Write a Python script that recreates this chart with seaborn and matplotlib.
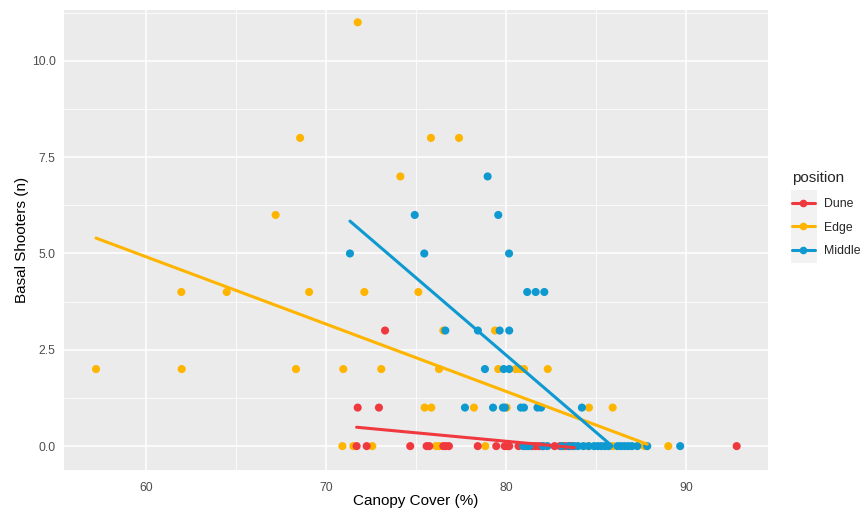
import matplotlib
matplotlib.use("Agg")
import matplotlib.pyplot as plt
from matplotlib.lines import Line2D
from matplotlib.patches import Rectangle
import numpy as np
import pandas as pd
import seaborn as sns

# ---- observations: canopy cover (%) and basal shooter counts per position ----
edge_cover = [71.76,
              68.56, 75.83, 77.39,
              74.13,
              67.2,
              61.96, 64.48, 69.06, 72.13, 75.13,
              76.52, 79.39,
              57.22, 61.98, 68.33, 70.96, 73.07, 76.28, 79.57, 80.54, 80.78, 81.0, 82.32,
              75.48, 75.85, 78.22, 80.04, 84.61, 85.93,
              70.91, 71.52, 72.57, 76.11, 76.3, 78.85, 81.2, 84.56, 85.94, 87.7, 89.02]
edge_shoot = [11,
              8, 8, 8,
              7,
              6,
              4, 4, 4, 4, 4,
              3, 3,
              2, 2, 2, 2, 2, 2, 2, 2, 2, 2, 2,
              1, 1, 1, 1, 1, 1,
              0, 0, 0, 0, 0, 0, 0, 0, 0, 0, 0]

dune_cover = [73.28,
              71.76, 72.94,
              71.7, 72.26, 74.68, 75.59, 75.74, 76.52, 76.65, 76.83, 78.43, 79.46,
              79.93, 80.07, 80.18, 80.7, 81.45, 81.65, 81.85, 82.05, 82.7, 83.0,
              83.25, 83.45, 83.65, 92.82]
dune_shoot = [3,
              1, 1,
              0, 0, 0, 0, 0, 0, 0, 0, 0, 0,
              0, 0, 0, 0, 0, 0, 0, 0, 0, 0,
              0, 0, 0, 0]

middle_cover = [78.98,
                74.93, 79.57,
                71.33, 75.46, 80.17,
                81.18, 81.65, 82.13,
                76.63, 78.44, 79.65, 80.18,
                78.83, 79.87, 80.18,
                77.72, 79.28, 79.83, 79.94, 80.83, 81.0, 81.75, 81.95, 84.22,
                80.96, 81.1, 81.3, 82.05, 82.3, 83.1, 83.5, 83.8, 84.0, 84.3, 84.6,
                84.9, 85.1, 85.3, 85.5, 85.7, 86.2, 86.4, 86.6, 86.8, 87.0, 87.3,
                87.85, 89.68]
middle_shoot = [7,
                6, 6,
                5, 5, 5,
                4, 4, 4,
                3, 3, 3, 3,
                2, 2, 2,
                1, 1, 1, 1, 1, 1, 1, 1, 1,
                0, 0, 0, 0, 0, 0, 0, 0, 0, 0, 0,
                0, 0, 0, 0, 0, 0, 0, 0, 0, 0, 0,
                0, 0]

# ---- fitted linear trends (start / end of each fitted segment) ----
trend_position = ["Dune", "Dune", "Edge", "Edge", "Middle", "Middle"]
trend_cover = [71.7, 83.8, 57.22, 87.85, 71.33, 85.9]
trend_shoot = [0.49, -0.04, 5.40, 0.05, 5.84, 0.0]

positions = ["Dune", "Edge", "Middle"]
colours = ["#F0393F", "#FFB400", "#0E99D0"]
palette = dict(zip(positions, colours))

x_ticks = [60, 70, 80, 90]
y_ticks = [0.0, 2.5, 5.0, 7.5, 10.0]
y_tick_labels = ["0.0", "2.5", "5.0", "7.5", "10.0"]

points = pd.concat([
    pd.DataFrame({"cover": edge_cover, "shooters": edge_shoot, "position": "Edge"}),
    pd.DataFrame({"cover": dune_cover, "shooters": dune_shoot, "position": "Dune"}),
    pd.DataFrame({"cover": middle_cover, "shooters": middle_shoot, "position": "Middle"}),
], ignore_index=True)
trends = pd.DataFrame({"cover": trend_cover, "shooters": trend_shoot,
                       "position": trend_position})

# ---- figure ----
sns.set_style("white")
plt.rcParams["font.family"] = ["Liberation Sans", "DejaVu Sans"]

W, H = 864, 508
fig = plt.figure(figsize=(W / 100, H / 100), dpi=100)
left, right, top, bottom = 64, 768, 10, 470
ax = fig.add_axes([left / W, 1 - bottom / H, (right - left) / W, (bottom - top) / H])
ax.set_facecolor("#EBEBEB")

ax.set_xlim(55.44, 94.56)
ax.set_ylim(-0.62, 11.32)

# grid: minor then major
for xv in [65, 75, 85]:
    ax.axvline(xv, color="white", lw=0.55, zorder=0)
for yv in [1.25, 3.75, 6.25, 8.75, 11.25]:
    ax.axhline(yv, color="white", lw=0.55, zorder=0)
for xv in x_ticks:
    ax.axvline(xv, color="white", lw=1.1, zorder=0)
for yv in y_ticks:
    ax.axhline(yv, color="white", lw=1.1, zorder=0)

sns.scatterplot(data=points, x="cover", y="shooters", hue="position",
                palette=palette, s=34, linewidth=0, edgecolor="none",
                legend=False, ax=ax, zorder=3)
sns.lineplot(data=trends, x="cover", y="shooters", hue="position",
             palette=palette, lw=2.2, legend=False, ax=ax, zorder=4,
             estimator=None, sort=False)

for s in ax.spines.values():
    s.set_visible(False)

ax.set_xticks(x_ticks)
ax.set_yticks(y_ticks)
ax.set_yticklabels(y_tick_labels)
ax.tick_params(axis="both", which="major", length=3.5, width=0.8,
               color="#333333", labelcolor="#4D4D4D", labelsize=8.8, pad=2.5)
ax.tick_params(axis="x", pad=5)
ax.set_xlabel("Canopy Cover (%)", fontsize=11, color="black", labelpad=0)
ax.set_ylabel("Basal Shooters (n)", fontsize=11, color="black", labelpad=2)

# ---- legend ----
fig.patches.append(Rectangle((791 / W, 1 - 263 / H), 26 / W, 73 / H,
                             transform=fig.transFigure, facecolor="#F2F2F2",
                             edgecolor="none", zorder=0))
handles = [Line2D([0], [0], color=c, lw=2.2, marker="o", markersize=5.5,
                  markeredgewidth=0) for c in colours]
leg = fig.legend(handles, positions, title="position", loc="upper left",
                 bbox_to_anchor=(783 / W, 1 - 164 / H), frameon=False,
                 fontsize=8.8, title_fontsize=11, handlelength=1.9,
                 handletextpad=0.75, labelspacing=0.95, borderpad=0.2)
leg._legend_box.align = "left"
leg.get_title().set_position((0, 2))

fig.savefig("out.png", dpi=100)
